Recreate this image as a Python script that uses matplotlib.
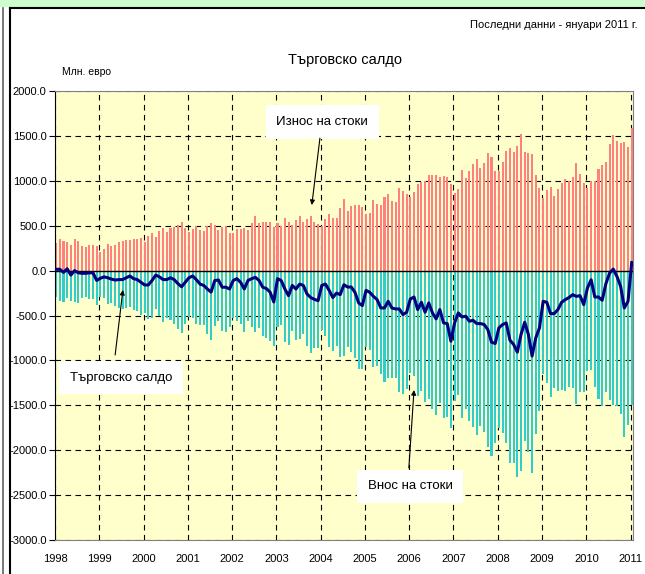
import matplotlib
matplotlib.use('Agg')
import matplotlib.pyplot as plt
from matplotlib.patches import Rectangle
from matplotlib.lines import Line2D
from matplotlib.ticker import FormatStrFormatter
import numpy as np

plt.rcParams['font.family'] = ['Liberation Sans', 'DejaVu Sans']

# години по оста X
years = [str(y) for y in range(1998, 2012)]

# месечни данни, млн. евро (януари 1998 - януари 2011)
exports = [
    312, 353, 331, 320, 286, 353, 331, 274, 263, 286, 286, 274,          # 1998
    210, 235, 295, 270, 285, 320, 330, 340, 345, 350, 355, 365,          # 1999
    315, 380, 420, 375, 440, 470, 430, 470, 490, 510, 540, 470,          # 2000
    432, 466, 500, 455, 444, 500, 534, 511, 455, 489, 500, 421,          # 2001
    421, 466, 466, 477, 455, 534, 613, 534, 545, 545, 545, 489,          # 2002
    534, 500, 590, 545, 511, 568, 613, 545, 579, 613, 545, 523,          # 2003
    500, 579, 635, 590, 590, 692, 793, 669, 722, 733, 733, 711,          # 2004
    633, 644, 789, 744, 733, 822, 856, 778, 767, 922, 889, 856,          # 2005
    822, 878, 967, 989, 1000, 1067, 1067, 1067, 1044, 1056, 1044, 967,   # 2006
    867, 911, 1122, 1033, 1111, 1189, 1244, 1144, 1200, 1311, 1267, 1111,  # 2007
    1111, 1211, 1333, 1367, 1322, 1389, 1522, 1322, 1311, 1300, 1067, 922,  # 2008
    811, 900, 933, 833, 911, 978, 1022, 1000, 1044, 1200, 1078, 978,     # 2009
    922, 1000, 1000, 1133, 1178, 1211, 1411, 1511, 1448, 1426, 1437, 1381,  # 2010
    1590,                                                                # 2011
]

imports = [
    -297, -338, -351, -300, -336, -353, -356, -304, -293, -311, -311, -384,
    -295, -305, -375, -365, -390, -420, -430, -420, -405, -440, -455, -495,
    -475, -540, -530, -425, -510, -570, -530, -550, -590, -655, -700, -600,
    -512, -526, -600, -605, -609, -705, -774, -621, -560, -674, -685, -626,
    -531, -556, -596, -682, -565, -624, -688, -644, -730, -745, -785, -839,
    -624, -610, -795, -825, -676, -773, -763, -710, -839, -913, -865, -858,
    -665, -729, -855, -890, -840, -960, -950, -852, -905, -975, -1093, -1101,
    -853, -886, -1076, -1067, -1149, -1238, -1198, -1194, -1194, -1349, -1379, -1320,
    -1138, -1172, -1401, -1342, -1464, -1427, -1538, -1605, -1478, -1638, -1634, -1753,
    -1449, -1382, -1638, -1541, -1675, -1742, -1834, -1734, -1800, -1967, -2064, -1923,
    -1749, -1812, -1915, -2142, -2145, -2297, -2234, -1897, -2023, -2252, -1816, -1560,
    -1153, -1253, -1412, -1312, -1345, -1331, -1345, -1300, -1312, -1487, -1357, -1357,
    -1116, -1102, -1294, -1427, -1509, -1357, -1439, -1494, -1513, -1602, -1853, -1723,
    -1500,
]

balance = [
    15, 15, -20, 20, -50, 0, -25, -30, -30, -25, -25, -110,
    -85, -70, -80, -95, -105, -100, -100, -80, -60, -90, -100, -130,
    -160, -160, -110, -50, -70, -100, -100, -80, -100, -145, -180, -130,
    -80, -60, -100, -150, -165, -205, -240, -110, -105, -185, -185, -205,
    -110, -90, -130, -205, -110, -90, -75, -110, -185, -200, -240, -350,
    -90, -110, -205, -280, -165, -205, -150, -165, -260, -300, -320, -335,
    -165, -150, -220, -300, -250, -268, -157, -183, -183, -242, -360, -390,
    -220, -242, -287, -323, -416, -416, -342, -416, -427, -427, -490, -464,
    -316, -294, -434, -353, -464, -360, -471, -538, -434, -582, -590, -786,
    -582, -471, -516, -508, -564, -553, -590, -590, -600, -656, -797, -812,
    -638, -601, -582, -775, -823, -908, -712, -575, -712, -952, -749, -638,
    -342, -353, -479, -479, -434, -353, -323, -300, -268, -287, -279, -379,
    -194, -102, -294, -294, -331, -146, -28, 17, -65, -176, -416, -342,
    90,
]

W, H = 645, 574
fig = plt.figure(figsize=(W / 100, H / 100), dpi=100)

def fx(px):
    return px / W

def fy(py):
    return 1 - py / H

# рамка около графиката
fig.patches.append(Rectangle((0, fy(7)), 1, 7 / H, transform=fig.transFigure,
                             facecolor='#CCFFCC', edgecolor='none'))
fig.lines.append(Line2D([fx(10), 1], [fy(8), fy(8)], transform=fig.transFigure,
                        color='black', lw=1.5))
fig.lines.append(Line2D([fx(10), fx(10)], [fy(8), 0], transform=fig.transFigure,
                        color='black', lw=1.5))
fig.lines.append(Line2D([fx(3), fx(3)], [fy(8), 0], transform=fig.transFigure,
                        color='#606060', lw=1.2))

ax = fig.add_axes([fx(55), fy(540), fx(633) - fx(55), fy(91) - fy(540)])
ax.set_facecolor('#FFFFCC')

x = np.arange(len(exports)) + 0.3
ax.bar(x, exports, width=0.55, color='#FF8080', zorder=2)
ax.bar(x, imports, width=0.55, color='#33CCCC', zorder=2)
ax.axhline(0, color='black', lw=1, zorder=3)
ax.plot(x, balance, color='#000080', lw=2.2, zorder=4)

ax.set_xlim(0, 156.65)
ax.set_ylim(-3000, 2000)
ax.set_yticks(np.arange(-3000, 2001, 500))
ax.yaxis.set_major_formatter(FormatStrFormatter('%.1f'))
ax.set_xticks(np.arange(0, 157, 12))
ax.set_xticklabels(years)
ax.set_axisbelow(True)
ax.grid(True, color='black', linestyle=(0, (5, 4)), lw=0.8)

ax.tick_params(axis='y', length=4, width=0.8, labelsize=8, pad=2)
ax.tick_params(axis='x', length=0, labelsize=8, pad=10)
for side in ['top', 'right', 'bottom']:
    ax.spines[side].set_color('#808080')
ax.spines['left'].set_color('black')

# надписи
fig.text(fx(638), fy(25), 'Последни данни - януари 2011 г.', ha='right', va='center', fontsize=8)
fig.text(fx(345), fy(60), 'Търговско салдо', ha='center', va='center', fontsize=10.5)
fig.text(fx(62), fy(72), 'Млн. евро', ha='left', va='center', fontsize=7.5)

box = dict(boxstyle='square,pad=0.8', facecolor='white', edgecolor='none')
arrow = dict(arrowstyle='-|>', color='black', lw=0.8, mutation_scale=7, shrinkA=0, shrinkB=0)

ax.text(72.4, 1655, 'Износ на стоки', ha='center', va='center', fontsize=9.5, bbox=box, zorder=6)
ax.annotate('', xy=(69.6, 730), xytext=(71.8, 1475), arrowprops=arrow, zorder=6)

ax.text(17.9, -1195, 'Търговско салдо', ha='center', va='center', fontsize=9.5, bbox=box, zorder=6)
ax.annotate('', xy=(18.4, -215), xytext=(16.3, -940), arrowprops=arrow, zorder=6)

ax.text(96.2, -2400, 'Внос на стоки', ha='center', va='center', fontsize=9.5, bbox=box, zorder=6)
ax.annotate('', xy=(97.3, -1330), xytext=(95.9, -2198), arrowprops=arrow, zorder=6)

fig.savefig('out.png', dpi=100)
